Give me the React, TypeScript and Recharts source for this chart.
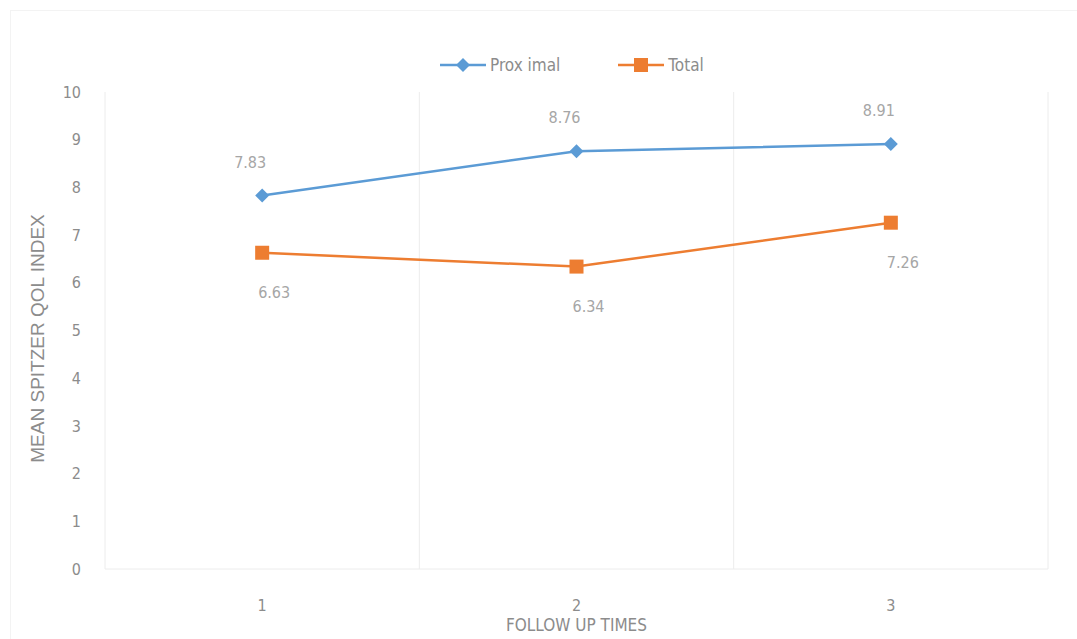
import React from "react";
import {
  LineChart,
  Line,
  XAxis,
  YAxis,
  CartesianGrid,
  LabelList,
} from "recharts";

const followUps = [1, 2, 3];
const proximal = [7.83, 8.76, 8.91];
const total = [6.63, 6.34, 7.26];
const yTicks = [0, 1, 2, 3, 4, 5, 6, 7, 8, 9, 10];
const bandEdges = [0.5, 1.5, 2.5, 3.5];

const BLUE = "#5b9bd5";
const ORANGE = "#ed7d31";
const GREY = "#8c8c8c";
const FONT = "'Liberation Sans Narrow', 'DejaVu Sans Condensed', 'Open Sans', sans-serif";

const data = followUps.map((t, i) => ({
  time: t,
  proximal: proximal[i],
  total: total[i],
}));

const Diamond = (props: any) => {
  const { cx, cy } = props;
  if (cx == null || cy == null) return null;
  const r = 7;
  return (
    <path
      d={`M${cx},${cy - r} L${cx + r},${cy} L${cx},${cy + r} L${cx - r},${cy} Z`}
      fill={BLUE}
    />
  );
};

const Square = (props: any) => {
  const { cx, cy } = props;
  if (cx == null || cy == null) return null;
  return <rect x={cx - 7} y={cy - 7} width={14} height={14} fill={ORANGE} />;
};

const TopLabel = (props: any) => {
  const { x, y, value } = props;
  return (
    <text x={x - 12} y={y - 28} textAnchor="middle" fontSize={16} fill="#a6a6a6" fontFamily={FONT}>
      {value.toFixed(2)}
    </text>
  );
};

const BottomLabel = (props: any) => {
  const { x, y, value } = props;
  return (
    <text x={x + 12} y={y + 45} textAnchor="middle" fontSize={16} fill="#a6a6a6" fontFamily={FONT}>
      {value.toFixed(2)}
    </text>
  );
};

const YTitle = (props: any) => {
  const { viewBox } = props;
  const cx = 37;
  const cy = viewBox.y + viewBox.height / 2 + 8;
  return (
    <text
      x={cx}
      y={cy}
      transform={`rotate(-90, ${cx}, ${cy})`}
      textAnchor="middle"
      dominantBaseline="central"
      fontSize={19}
      fill={GREY}
      fontFamily="'Liberation Sans', Arial, sans-serif">
      MEAN SPITZER QOL INDEX
    </text>
  );
};

export default function App() {
  return (
    <div
      style={{
        position: "absolute",
        left: 0,
        top: 0,
        width: 1077,
        height: 639,
        background: "#fff",
        fontFamily: FONT,
      }}>
      <div
        style={{
          position: "absolute",
          left: 10,
          top: 10,
          width: 1070,
          height: 640,
          borderLeft: "1px solid #f3f3f3",
          borderTop: "1px solid #f3f3f3",
        }}
      />
      {/* legend */}
      <div
        style={{
          position: "absolute",
          top: 55,
          left: 440,
          display: "flex",
          alignItems: "center",
          fontSize: 17,
          color: GREY,
        }}>
        <svg width={46} height={20}>
          <line x1={0} y1={10} x2={46} y2={10} stroke={BLUE} strokeWidth={2.5} />
          <path d="M23,3 L30,10 L23,17 L16,10 Z" fill={BLUE} />
        </svg>
        <span style={{ marginLeft: 4, marginRight: 58 }}>Prox imal</span>
        <svg width={46} height={20}>
          <line x1={0} y1={10} x2={46} y2={10} stroke={ORANGE} strokeWidth={2.5} />
          <rect x={16} y={3} width={14} height={14} fill={ORANGE} />
        </svg>
        <span style={{ marginLeft: 4 }}>Total</span>
      </div>
      <LineChart
        width={1077}
        height={639}
        data={data}
        margin={{ top: 92, right: 29, left: 0, bottom: 40 }}>
        <CartesianGrid
          horizontal={false}
          xAxisId="grid"
          stroke="#ececec"
        />
        <XAxis
          xAxisId="grid"
          type="number"
          dataKey="time"
          domain={[0.5, 3.5]}
          ticks={bandEdges}
          hide
        />
        <XAxis
          dataKey="time"
          type="number"
          domain={[0.5, 3.5]}
          ticks={followUps}
          axisLine={{ stroke: "#ececec" }}
          tickLine={false}
          height={30}
          tick={{ fill: GREY, fontSize: 16, fontFamily: FONT }}
          tickMargin={25}
          label={{
            value: "FOLLOW UP TIMES",
            position: "insideBottom",
            offset: -32,
            fill: GREY,
            fontSize: 17,
            fontFamily: FONT,
          }}
        />
        <YAxis
          domain={[0, 10]}
          ticks={yTicks}
          axisLine={false}
          tickLine={false}
          width={105}
          tickMargin={18}
          tick={{ fill: GREY, fontSize: 16, fontFamily: FONT }}
          label={<YTitle />}
        />
        <Line
          dataKey="proximal"
          stroke={BLUE}
          strokeWidth={2.5}
          dot={<Diamond />}
          activeDot={false}
          isAnimationActive={false}>
          <LabelList dataKey="proximal" content={<TopLabel />} />
        </Line>
        <Line
          dataKey="total"
          stroke={ORANGE}
          strokeWidth={2.5}
          dot={<Square />}
          activeDot={false}
          isAnimationActive={false}>
          <LabelList dataKey="total" content={<BottomLabel />} />
        </Line>
      </LineChart>
    </div>
  );
}
